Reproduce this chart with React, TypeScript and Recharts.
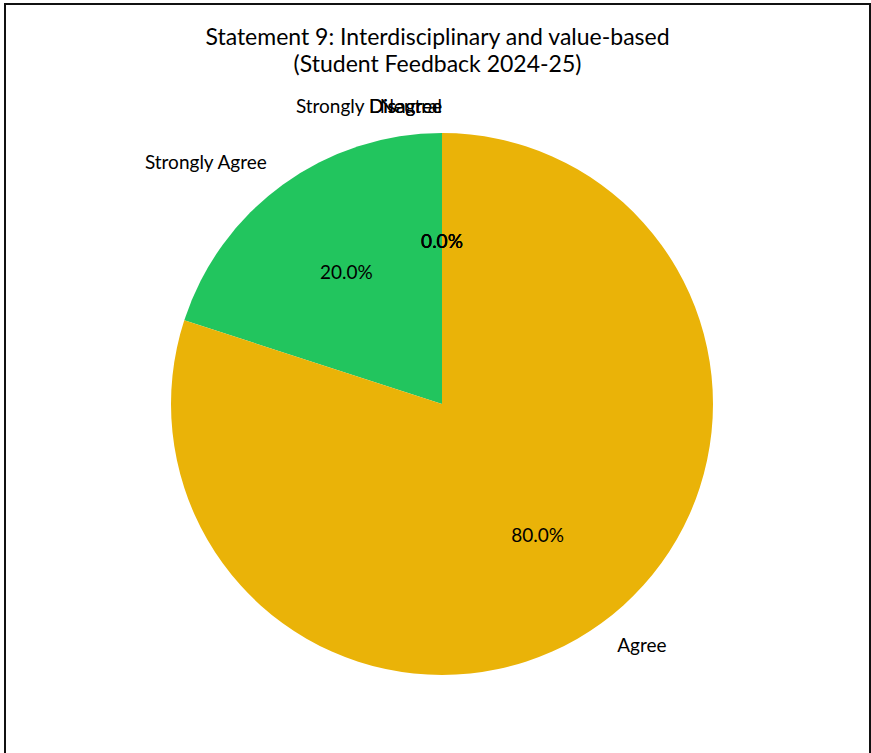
import { PieChart, Pie, Cell } from 'recharts';

const labels = ['Strongly Agree', 'Agree', 'Neutral', 'Disagree', 'Strongly Disagree'];
const values = [20, 80, 0, 0, 0];
const colors = ['#22c55e', '#eab308', '#9ca3af', '#f97316', '#ef4444'];

const data = labels.map((name, i) => ({ name, value: values[i] }));

const RADIAN = Math.PI / 180;
const FONT = 'Lato, "Noto Sans", sans-serif';

const renderLabel = (props: any) => {
  const { cx, cy, midAngle, outerRadius, percent, name } = props;
  const c = Math.cos(-midAngle * RADIAN);
  const s = Math.sin(-midAngle * RADIAN);
  const lx = cx + outerRadius * 1.1 * c;
  const ly = cy + outerRadius * 1.1 * s;
  const px = cx + outerRadius * 0.6 * c;
  const py = cy + outerRadius * 0.6 * s;
  return (
    <g>
      <text x={lx} y={ly} dy="0.35em" textAnchor={c > 0.01 ? 'start' : 'end'} fill="#000" fontSize={19} fontFamily={FONT}>
        {name}
      </text>
      <text x={px} y={py} dy="0.35em" textAnchor="middle" fill="#000" fontSize={19} fontFamily={FONT}>
        {(percent * 100).toFixed(1)}%
      </text>
    </g>
  );
};

export default function App() {
  return (
    <div style={{ position: 'absolute', left: 4, top: 3, width: 863, height: 760, border: '2px solid #111', background: '#fff' }}>
      <div style={{ position: 'absolute', left: 0, top: 18, width: 863, textAlign: 'center', fontFamily: FONT, fontSize: 23, lineHeight: '27px', color: '#000' }}>
        Statement 9: Interdisciplinary and value-based
        <br />
        (Student Feedback 2024-25)
      </div>
      <div style={{ position: 'absolute', left: 0, top: 0 }}>
        <PieChart width={863} height={760} margin={{ top: 0, right: 0, bottom: 0, left: 0 }}>
          <Pie
            data={data}
            dataKey="value"
            nameKey="name"
            cx={436}
            cy={399}
            outerRadius={271}
            startAngle={90}
            endAngle={450}
            stroke="none"
            labelLine={false}
            label={renderLabel}
            isAnimationActive={false}
          >
            {data.map((entry, index) => (
              <Cell key={`cell-${index}`} fill={colors[index]} />
            ))}
          </Pie>
        </PieChart>
      </div>
    </div>
  );
}
